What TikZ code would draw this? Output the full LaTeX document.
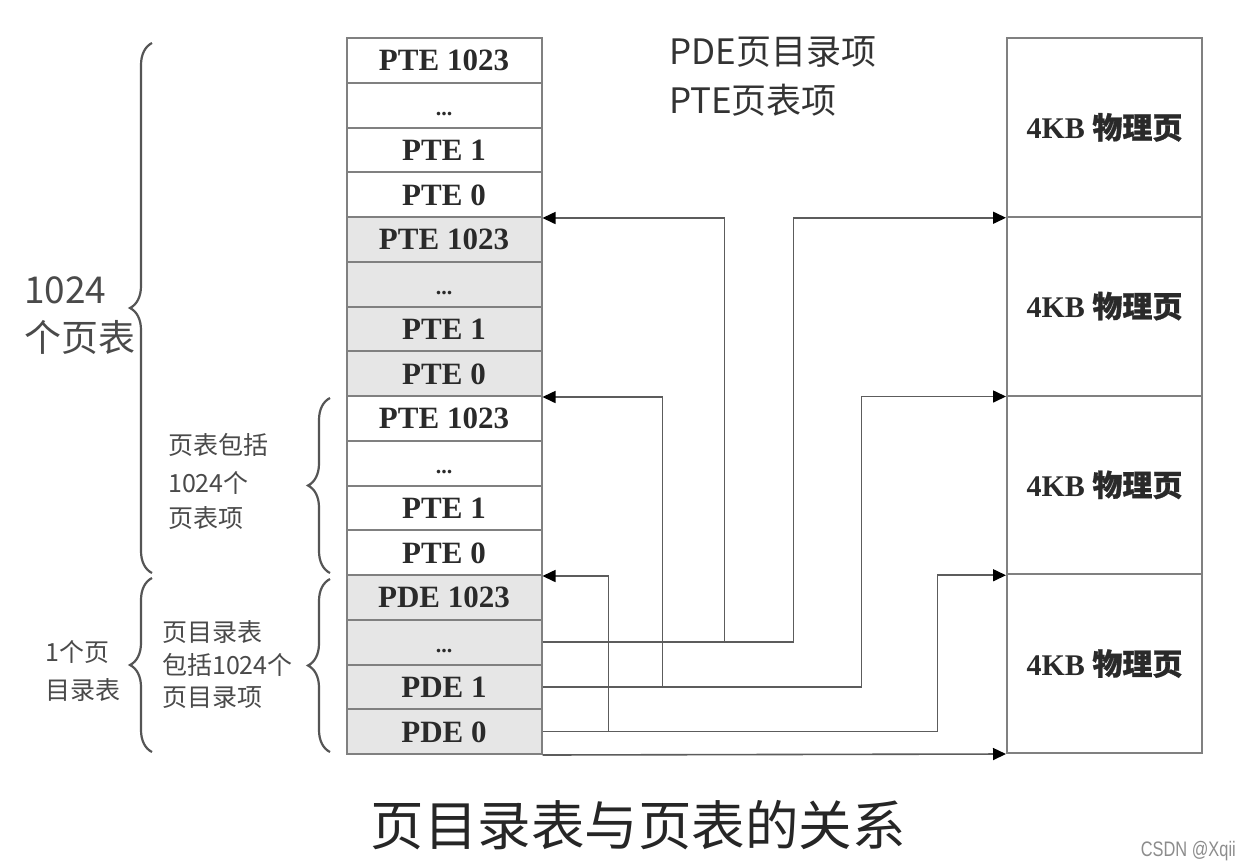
\documentclass[tikz,border=0pt]{standalone}
\usepackage{fontspec}
\setmainfont{Liberation Serif}
\newfontfamily\cjk{Noto Sans CJK SC}
\newfontfamily\cjkb[FakeBold=0.9]{Noto Sans CJK SC}
\newfontfamily\wm[FakeStretch=0.78]{Liberation Sans}
\usetikzlibrary{arrows.meta,decorations.pathreplacing,calc}
\definecolor{boxline}{HTML}{808080}
\definecolor{conline}{HTML}{5C5C5C}
\definecolor{cellgray}{HTML}{E6E6E6}
\definecolor{txt}{HTML}{2A2A2A}
\definecolor{lblcol}{HTML}{4A4A4A}
\definecolor{brcol}{HTML}{555555}
\newcommand\ddd{{\fontsize{22}{22}\selectfont ...}}
\begin{document}
\begin{tikzpicture}[x=1pt,y=-1pt,
  cell/.style={draw=boxline, line width=2pt, fill=white, minimum width=195pt, minimum height=44.75pt, inner sep=0pt,
    font=\fontsize{31}{31}\selectfont\bfseries, text=txt, text height=21pt, text depth=0pt},
  gcell/.style={cell, fill=cellgray},
  page/.style={draw=boxline, line width=2pt, minimum width=195pt, minimum height=178.75pt, inner sep=0pt, text=txt},
  conn/.style={draw=conline, line width=1.6pt},
  arr/.style={conn, -{Triangle[length=13pt,width=12pt,color=black]}},
  brc/.style={draw=brcol, line width=2.2pt, decorate, decoration={brace, amplitude=22pt}},
  lbl/.style={font=\cjk\fontsize{37}{37}\selectfont, text=lblcol, anchor=west, inner sep=0pt},
  slbl/.style={font=\cjk\fontsize{25}{25}\selectfont, text=lblcol, anchor=west, inner sep=0pt},
  leg/.style={font=\cjk\fontsize{35}{35}\selectfont, text=black!80, anchor=west, inner sep=0pt}
]
\useasboundingbox[fill=white] (0,0) rectangle (1240,863);

% left column of entries
\node[cell]  (r1)  at (444, 60.375)  {PTE 1023};
\node[cell]  (r2)  at (444, 105.125) {\ddd};
\node[cell]  (r3)  at (444, 149.875) {PTE 1};
\node[cell]  (r4)  at (444, 194.625) {PTE 0};
\node[gcell] (r5)  at (444, 239.375) {PTE 1023};
\node[gcell] (r6)  at (444, 284.125) {\ddd};
\node[gcell] (r7)  at (444, 328.875) {PTE 1};
\node[gcell] (r8)  at (444, 373.625) {PTE 0};
\node[cell]  (r9)  at (444, 418.375) {PTE 1023};
\node[cell]  (r10) at (444, 463.125) {\ddd};
\node[cell]  (r11) at (444, 507.875) {PTE 1};
\node[cell]  (r12) at (444, 552.625) {PTE 0};
\node[gcell] (r13) at (444, 597.375) {PDE 1023};
\node[gcell] (r14) at (444, 642.125) {\ddd};
\node[gcell] (r15) at (444, 686.875) {PDE 1};
\node[gcell] (r16) at (444, 731.625) {PDE 0};

% physical pages
\foreach \j/\y in {1/127.375, 2/306.125, 3/484.875, 4/663.625}{
  \node[page] (p\j) at (1104.5, \y) {\fontsize{30}{30}\selectfont\bfseries 4KB {\cjkb 物理页}};
}

% connectors
\draw[arr] (r14.east) -- ++(251,0) |- (p1.south west);
\draw[arr] (r14.east) ++(182,0) |- (r4.south east);
\draw[arr] (r15.east) -- ++(319,0) |- (p2.south west);
\draw[arr] (r15.east) ++(120,0) |- (r8.south east);
\draw[arr] (r16.east) -- ++(395,0) |- (p3.south west);
\draw[arr] (r16.east) ++(66,0) |- (r12.south east);
\draw[arr] (r16.south east) -- (p4.south west);

% legend
\node[leg] (l1) at (669, 52) {PDE页目录项};
\node[leg] (l2) at (669, 100) {PTE页表项};

% braces
\draw[brc] (152,573) -- (152,43);
\draw[brc] (152,752) -- (152,578);
\draw[brc] (330,573) -- (330,398);
\draw[brc] (330,752) -- (330,579);

% brace labels
\node[lbl] (b1a) at (24, 290) {1024};
\node[lbl] (b1b) at (24, 337) {个页表};
\node[slbl] (b2a) at (168, 445) {页表包括};
\node[slbl] (b2b) at (168, 483) {1024个};
\node[slbl] (b2c) at (168, 518) {页表项};
\node[slbl] (b3a) at (45, 652) {1个页};
\node[slbl] (b3b) at (45, 690) {目录表};
\node[slbl] (b4a) at (162, 632) {页目录表};
\node[slbl] (b4b) at (162, 665) {包括1024个};
\node[slbl] (b4c) at (162, 698) {页目录项};

% title and watermark
\node[font=\cjk\fontsize{53.5}{53.5}\selectfont, text=black!85, inner sep=0pt] (title) at (638, 825) {页目录表与页表的关系};
\node[font=\wm\fontsize{21}{21}\selectfont, text=black!45, anchor=east, inner sep=0pt] (wm) at (1236, 851) {CSDN @Xqii};
\end{tikzpicture}
\end{document}
